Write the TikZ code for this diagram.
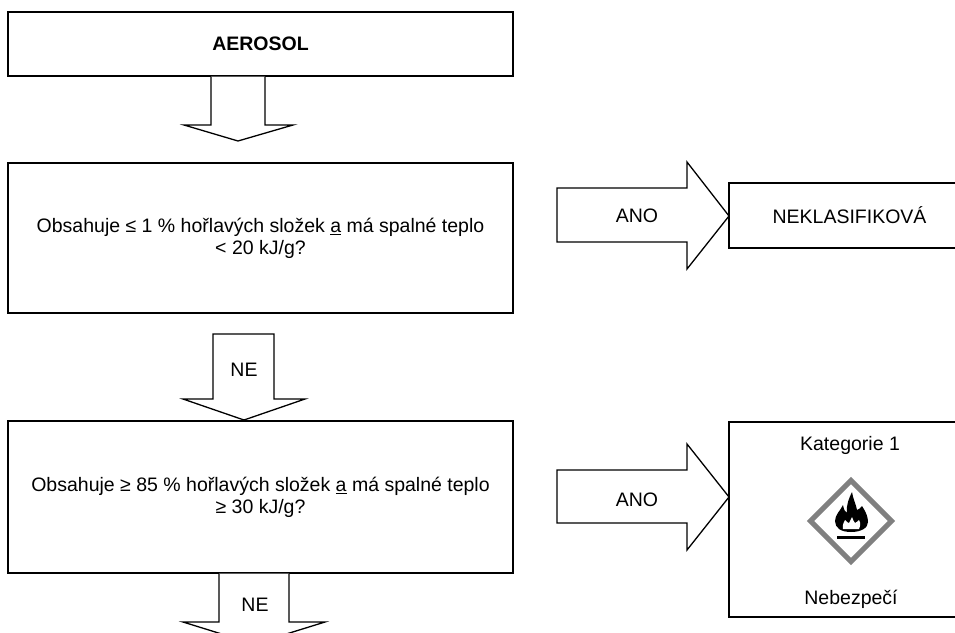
\documentclass[tikz,border=0pt]{standalone}
\usepackage{fontspec}
\setmainfont{Liberation Sans}
\usetikzlibrary{calc}
\definecolor{pictgray}{RGB}{128,128,128}
\tikzset{
  box/.style={draw, line width=1.3pt, rectangle, inner sep=0pt, outer sep=0pt, align=center,
    font=\fontsize{19.5}{22}\selectfont},
  blockarrow/.style={draw, line width=1.3pt, fill=white, line join=miter},
  lbl/.style={inner sep=0pt, font=\fontsize{19.5}{22}\selectfont},
}
\begin{document}
\begin{tikzpicture}[x=1pt, y=-1pt]
\clip (0,0) rectangle (955,632);
\fill[white] (0,0) rectangle (955,632);

% boxes
\node[box, minimum width=505pt, minimum height=64pt, font=\fontsize{19.5}{22}\selectfont\bfseries] (aer) at (260.5,44) {AEROSOL};
\node[box, minimum width=505pt, minimum height=150pt] (q1) at (260.5,238)
  {Obsahuje ≤ 1 \% hořlavých složek \underline{a} má spalné teplo\\ < 20 kJ/g?};
\node[box, minimum width=505pt, minimum height=152pt] (q2) at (260.5,497)
  {Obsahuje ≥ 85 \% hořlavých složek \underline{a} má spalné teplo\\ ≥ 30 kJ/g?};
\node[box, minimum width=241pt, minimum height=65pt] (nek) at (849.5,215.5) {NEKLASIFIKOVÁ};
\node[box, minimum width=241pt, minimum height=195pt] (kat) at (849.5,519.5) {};
\node[lbl] (kattitle) at (850,445) {Kategorie 1};
\node[lbl] (katfoot) at (851,599) {Nebezpečí};

% block arrows
\draw[blockarrow] (211,76.6) -- (211,125) -- (184,125) -- (238,141) -- (293,125) -- (265,125) -- (265,76.6);
\draw[blockarrow] (213,334) -- (213,399) -- (183,399) -- (244,420) -- (305,399) -- (274,399) -- (274,334) -- cycle;
\node[lbl] (ne1) at (244,370) {NE};
\draw[blockarrow] (219,573.6) -- (219,622) -- (183,622) -- (254,644) -- (325,622) -- (289,622) -- (289,573.6);
\node[lbl] (ne2) at (255,605) {NE};
\draw[blockarrow] (557,188) -- (687,188) -- (687,162) -- (729,216) -- (687,269) -- (687,242) -- (557,242) -- cycle;
\node[lbl] (ano1) at (637,216) {ANO};
\draw[blockarrow] (557,470) -- (687,470) -- (687,444) -- (729,497) -- (687,550) -- (687,523) -- (557,523) -- cycle;
\node[lbl] (ano2) at (637,500) {ANO};

% pictogram
\coordinate (pict) at (851,521);
\begin{scope}[shift={(pict)}]
  \draw[pictgray, line width=5pt, line join=miter] (0,-40.5) -- (40.5,0) -- (0,40.5) -- (-40.5,0) -- cycle;
  \fill[black] (0,11) .. controls (-10,11) and (-16,7) .. (-16,0)
     .. controls (-16,-6) and (-11,-10) .. (-8,-16)
     .. controls (-7,-11) and (-6,-9) .. (-4,-8)
     .. controls (-5,-16) and (-2,-23) .. (1,-29)
     .. controls (2,-22) and (5,-17) .. (6,-11)
     .. controls (8,-12) and (10,-13) .. (11,-15)
     .. controls (15,-9) and (17,-4) .. (17,1)
     .. controls (17,7) and (10,11) .. (0,11) -- cycle;
  \fill[white] (-8,8) .. controls (-9,4) and (-7,1) .. (-6,-1)
     .. controls (-4,1) and (-3,2) .. (-2,2)
     .. controls (-1,0) and (0,-2) .. (1,-4)
     .. controls (2,-1) and (3,1) .. (4,2)
     .. controls (6,1) and (7,0) .. (8,-1)
     .. controls (10,2) and (9,6) .. (8,8) -- cycle;
  \fill[black] (-13.7,14.7) rectangle (14,17.5);
\end{scope}
\end{tikzpicture}
\end{document}
